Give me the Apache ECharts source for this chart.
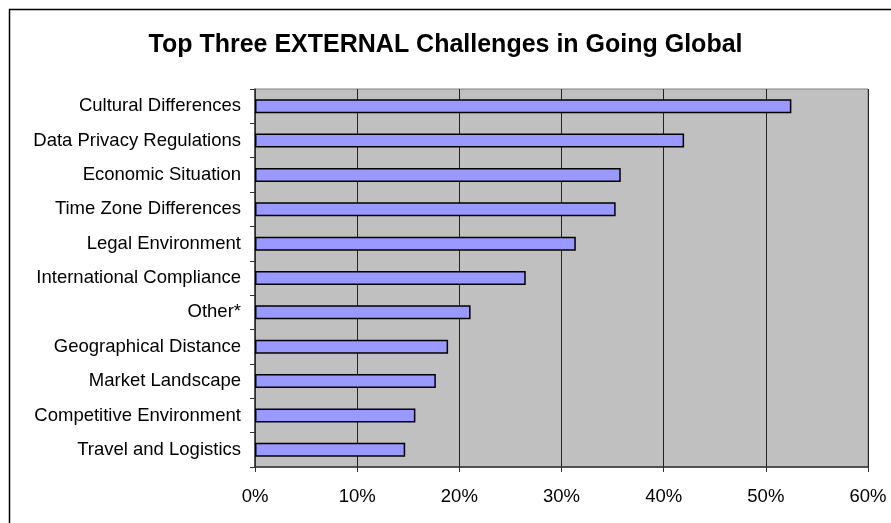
<!DOCTYPE html>
<html>
<head>
<meta charset="utf-8">
<script src="https://cdn.jsdelivr.net/npm/echarts@6/dist/echarts.min.js"></script>
<style>
html,body{margin:0;padding:0;background:#fff;}
#chart{width:891px;height:523px;}
</style>
</head>
<body>
<div id="chart"></div>
<script>
const titleText = 'Top Three EXTERNAL Challenges in Going Global';
const categories = [
  'Cultural Differences',
  'Data Privacy Regulations',
  'Economic Situation',
  'Time Zone Differences',
  'Legal Environment',
  'International Compliance',
  'Other*',
  'Geographical Distance',
  'Market Landscape',
  'Competitive Environment',
  'Travel and Logistics'
];
const values = [52.5, 42.0, 35.8, 35.3, 31.4, 26.5, 21.1, 18.9, 17.7, 15.7, 14.7];
const xTicks = [0, 10, 20, 30, 40, 50, 60];

const chart = echarts.init(document.getElementById('chart'), null, {renderer: 'canvas'});
const FONT = '"Liberation Sans", Arial, sans-serif';
chart.setOption({
  animation: false,
  backgroundColor: '#ffffff',
  title: {
    text: titleText,
    left: 'center',
    top: 28,
    textStyle: {fontFamily: FONT, fontWeight: 'bold', fontSize: 25, color: '#000'}
  },
  graphic: [{
    type: 'rect',
    shape: {x: 9.5, y: 9.5, width: 1000, height: 1000},
    style: {fill: 'none', stroke: '#000', lineWidth: 1.5},
    silent: true,
    z: 100
  }],
  grid: {
    left: 255, right: 23, top: 89, bottom: 56,
    show: true,
    backgroundColor: '#c0c0c0',
    borderColor: '#808080',
    borderWidth: 1
  },
  xAxis: {
    type: 'value',
    min: xTicks[0],
    max: xTicks[xTicks.length - 1],
    interval: 10,
    axisLine: {show: true, lineStyle: {color: '#333', width: 1.5}},
    axisTick: {show: true, length: 5, lineStyle: {color: '#333'}},
    splitLine: {show: true, lineStyle: {color: '#222', width: 1}},
    axisLabel: {
      formatter: v => v + '%',
      fontFamily: FONT, fontSize: 18.5, color: '#000', margin: 20
    }
  },
  yAxis: {
    type: 'category',
    data: categories,
    inverse: true,
    axisLine: {show: true, lineStyle: {color: '#333', width: 1.5}},
    axisTick: {show: true, length: 5, lineStyle: {color: '#333'}},
    axisLabel: {fontFamily: FONT, fontSize: 18.5, color: '#000', margin: 14}
  },
  series: [{
    type: 'bar',
    data: values,
    barWidth: 14,
    itemStyle: {color: '#9999ff', borderColor: '#000', borderWidth: 1.5}
  }]
});
</script>
</body>
</html>
